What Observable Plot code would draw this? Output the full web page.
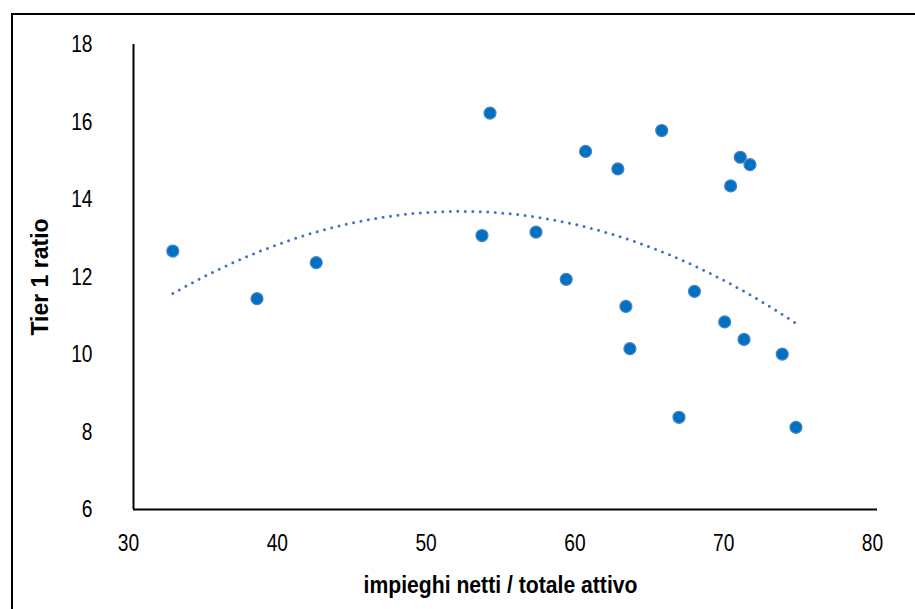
<!DOCTYPE html>
<html>
<head>
<meta charset="utf-8">
<script src="https://cdn.jsdelivr.net/npm/d3@7"></script>
<script src="https://cdn.jsdelivr.net/npm/@observablehq/plot@0.6"></script>
<style>
  html, body { margin: 0; padding: 0; background: #fff; }
  #wrap { position: relative; width: 915px; height: 609px; overflow: hidden; }
  #border { position: absolute; left: 11px; top: 13px; width: 1000px; height: 1000px;
            border-left: 2px solid #000; border-top: 2px solid #000; box-sizing: border-box; }
  #chart { position: absolute; left: 0; top: 0; }
  svg text { font-family: "Liberation Sans", Arial, sans-serif; }
</style>
</head>
<body>
<div id="wrap"><div id="border"></div><div id="chart"></div></div>
<script>
// Data
const impieghiTotale = [32.64, 38.30, 42.28, 53.96, 53.42, 57.05, 59.08, 60.38, 62.55, 63.09, 63.36, 65.50, 66.66, 67.70, 69.73, 70.13, 70.78, 71.43, 71.03, 73.60, 74.52];
const tier1Ratio    = [12.67, 11.44, 12.37, 16.23, 13.07, 13.16, 11.94, 15.24, 14.79, 11.24, 10.15, 15.78, 8.38, 11.63, 10.84, 14.35, 15.09, 14.90, 10.39, 10.01, 8.12];
const xTicks = [30, 40, 50, 60, 70, 80];
const yTicks = [6, 8, 10, 12, 14, 16, 18];
const xTitle = "impieghi netti / totale attivo";
const yTitle = "Tier 1 ratio";

const points = impieghiTotale.map((x, i) => ({x, y: tier1Ratio[i]}));

// Quadratic (order-2 polynomial) least-squares trendline, as in the spreadsheet
function polyFit2(xs, ys) {
  const S = Array.from({length: 5}, (_, k) => d3.sum(xs, x => Math.pow(x, k)));
  const T = Array.from({length: 3}, (_, k) => d3.sum(xs, (x, i) => ys[i] * Math.pow(x, k)));
  const A = [[S[0], S[1], S[2], T[0]], [S[1], S[2], S[3], T[1]], [S[2], S[3], S[4], T[2]]];
  for (let c = 0; c < 3; c++) {
    let p = c;
    for (let r = c + 1; r < 3; r++) if (Math.abs(A[r][c]) > Math.abs(A[p][c])) p = r;
    [A[c], A[p]] = [A[p], A[c]];
    for (let r = 0; r < 3; r++) {
      if (r === c) continue;
      const f = A[r][c] / A[c][c];
      for (let k = c; k < 4; k++) A[r][k] -= f * A[c][k];
    }
  }
  return [A[0][3] / A[0][0], A[1][3] / A[1][1], A[2][3] / A[2][2]];
}
const [c0, c1, c2] = polyFit2(impieghiTotale, tier1Ratio);
const [xmin, xmax] = d3.extent(impieghiTotale);
const trend = d3.range(0, 101).map(i => {
  const x = xmin + (xmax - xmin) * i / 100;
  return {x, y: c0 + c1 * x + c2 * x * x};
});

const chart = Plot.plot({
  width: 915,
  height: 609,
  marginLeft: 133,
  marginRight: 38,
  marginTop: 44,
  marginBottom: 100,
  style: {fontSize: "24px", color: "#000", background: "transparent", overflow: "visible"},
  x: {domain: [30, 80]},
  y: {domain: [6, 18]},
  marks: [
    Plot.axisX({ticks: xTicks, tickSize: 0, tickPadding: 24, dx: -5, label: null, fontSize: 24}),
    Plot.axisY({ticks: yTicks, tickSize: 0, tickPadding: 41, label: null, fontSize: 24}),
    Plot.ruleY([6], {stroke: "#000", strokeWidth: 2}),
    Plot.ruleX([30], {stroke: "#000", strokeWidth: 2}),
    Plot.line(trend, {x: "x", y: "y", stroke: "#4472c4", strokeWidth: 3,
      strokeDasharray: "0 7.5", strokeLinecap: "round", curve: "linear"}),
    Plot.dot(points, {x: "x", y: "y", r: 6, fill: "#0070c0", stroke: "#4a84c8", strokeWidth: 1.2}),
    Plot.text([xTitle], {frameAnchor: "bottom", dy: 76, dx: -5, fontSize: 23, fontWeight: "bold",
      textAnchor: "middle", lineAnchor: "middle"}),
    Plot.text([yTitle], {frameAnchor: "left", dx: -93, rotate: -90, fontSize: 23, fontWeight: "bold",
      textAnchor: "middle", lineAnchor: "middle"})
  ]
});
document.getElementById("chart").appendChild(chart);

// Emulate the condensed (narrow) typeface of the original: compress each label's glyphs
d3.select(chart).selectAll("text").each(function() {
  const t = this.textContent;
  const s = t === xTitle ? 0.92 : t === yTitle ? 1.0 : 0.8;
  if (s === 1) return;
  const w = this.getComputedTextLength();
  if (w > 0) {
    this.setAttribute("textLength", (w * s).toFixed(2));
    this.setAttribute("lengthAdjust", "spacingAndGlyphs");
  }
});
</script>
</body>
</html>
